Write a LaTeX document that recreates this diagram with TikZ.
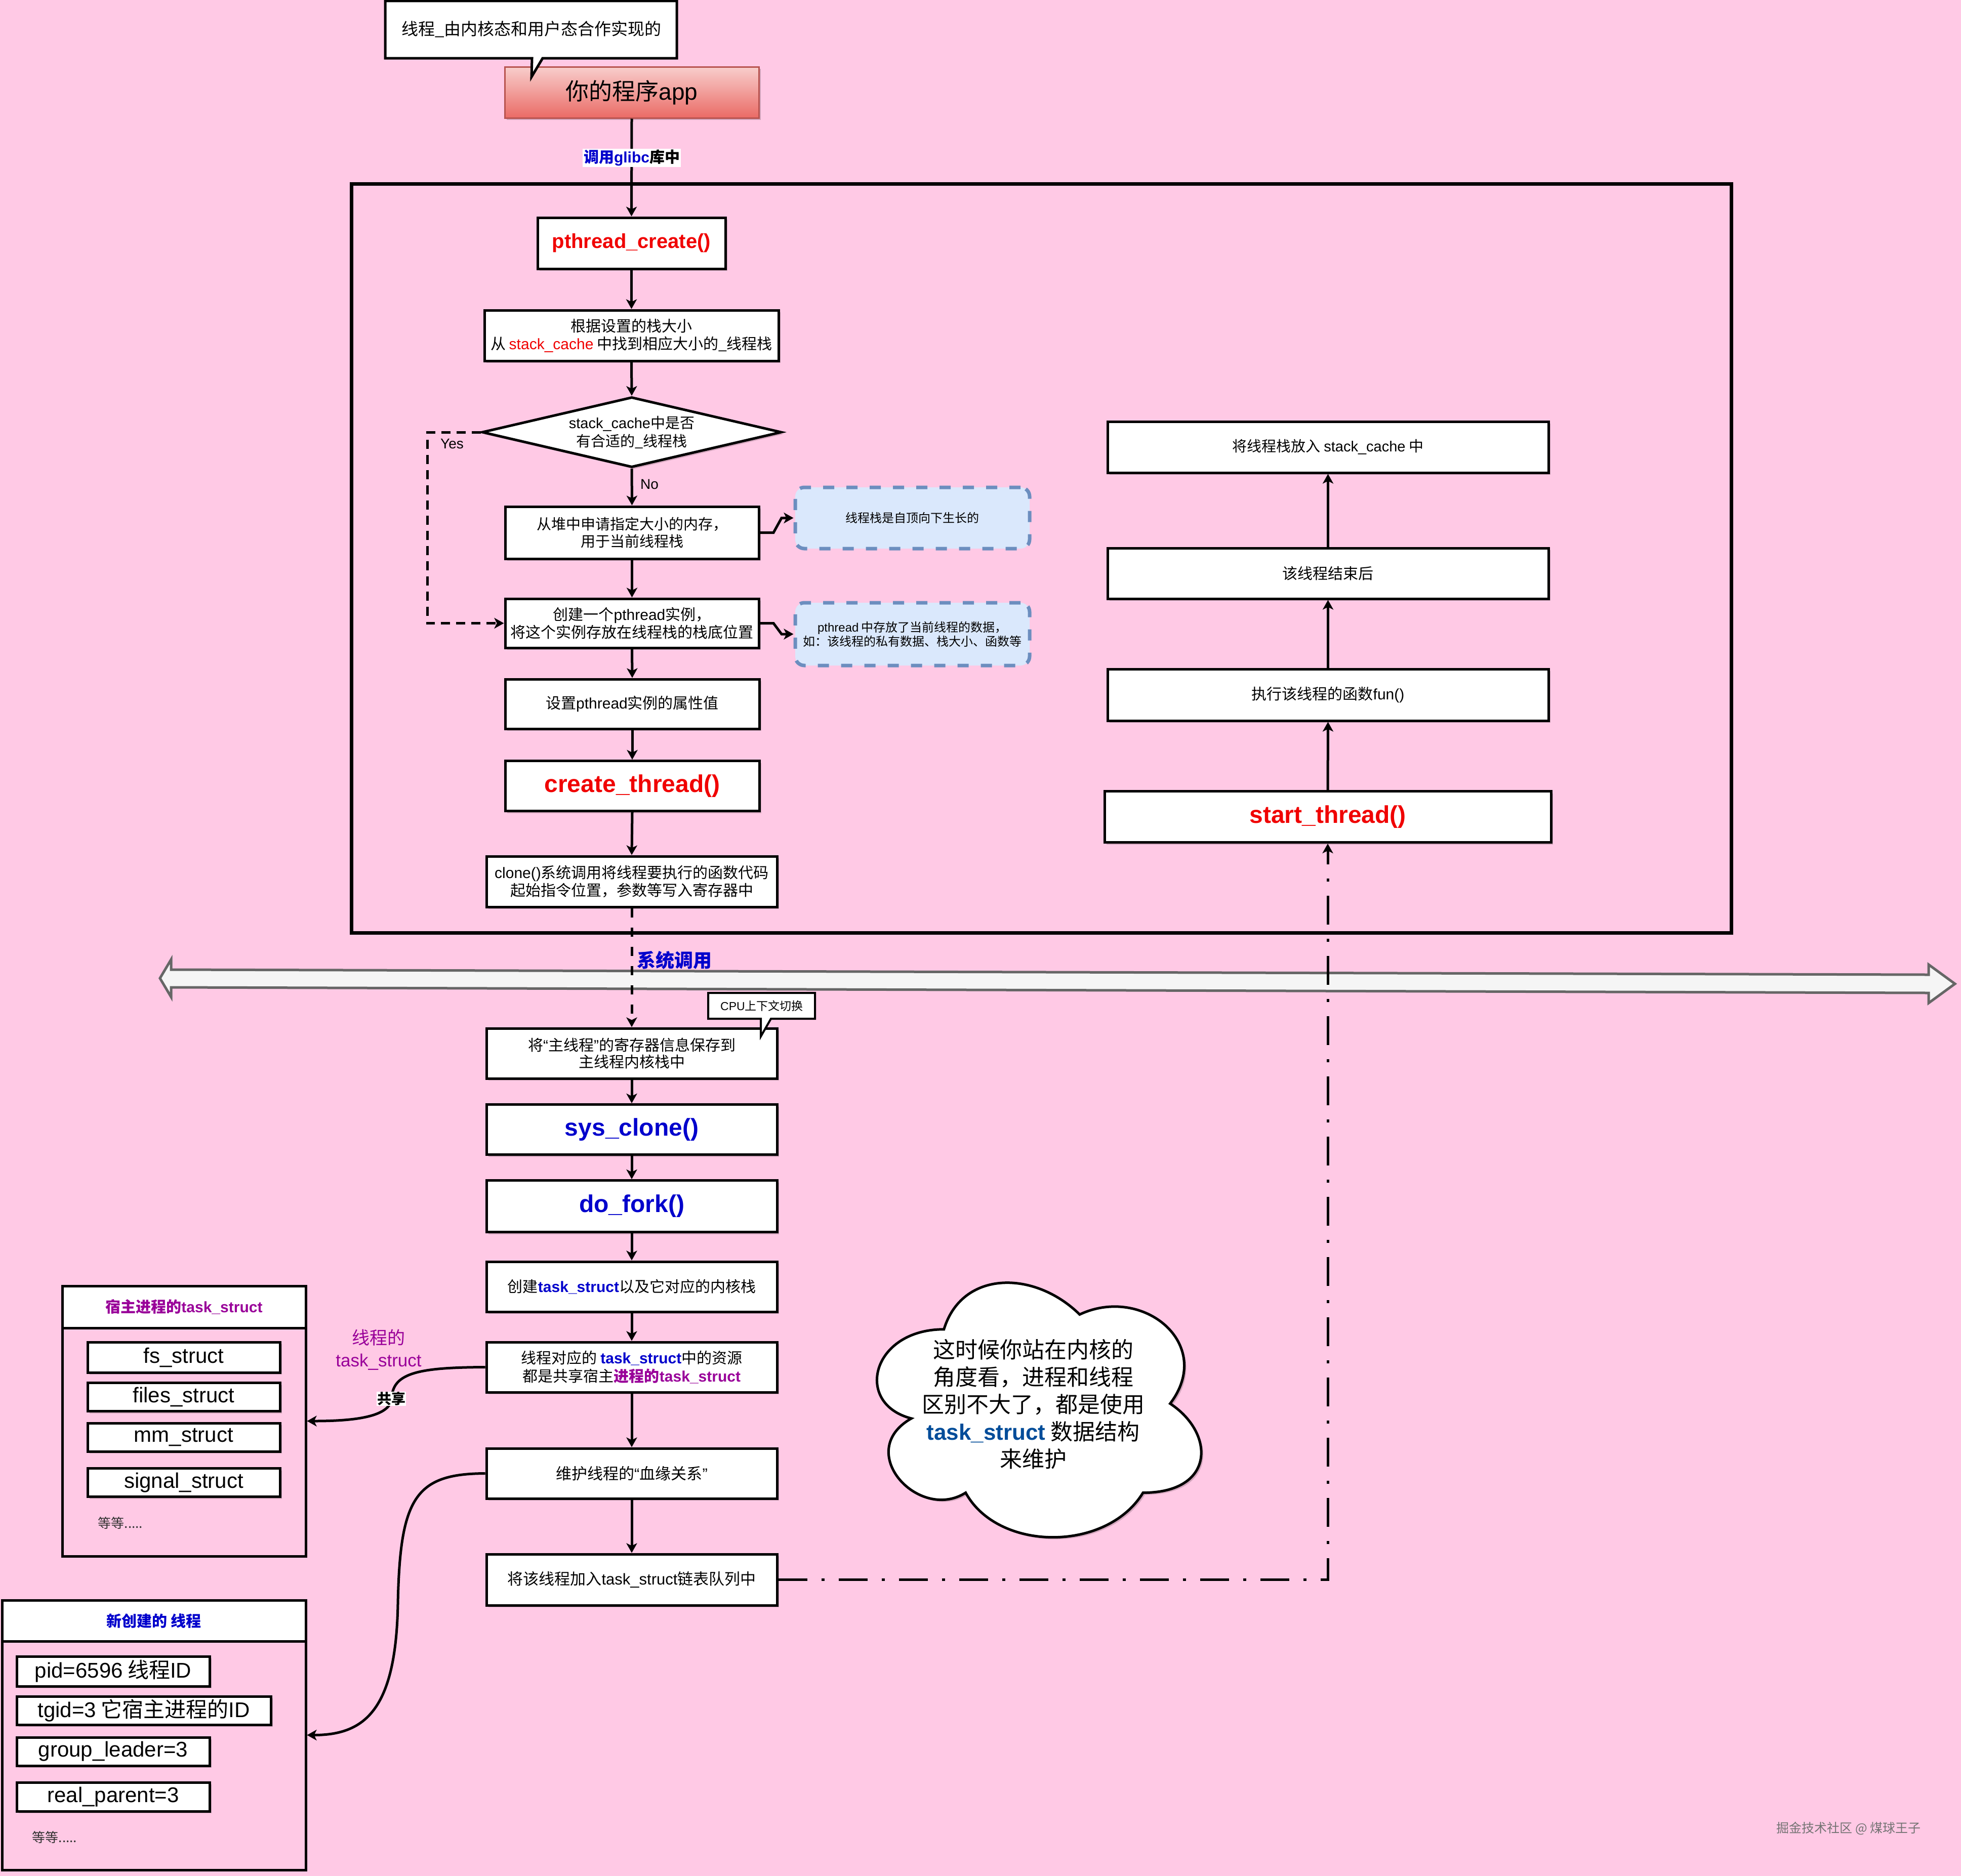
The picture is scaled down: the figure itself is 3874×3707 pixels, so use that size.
\documentclass[tikz,border=0pt]{standalone}
\usepackage{fontspec}
\setmainfont{Noto Sans CJK SC}
\newfontfamily\lat{Liberation Sans}
\usetikzlibrary{arrows.meta,shapes.geometric,shadows}
\definecolor{bgpink}{RGB}{255,201,229}
\definecolor{tred}{RGB}{240,0,0}
\definecolor{tblue}{RGB}{0,0,204}
\definecolor{tpurple}{RGB}{153,0,153}
\definecolor{cblue}{RGB}{0,76,153}
\definecolor{dfill}{RGB}{218,232,252}
\definecolor{dline}{RGB}{108,142,191}
\definecolor{bandfill}{RGB}{245,245,245}
\definecolor{bandline}{RGB}{102,102,102}
\definecolor{appborder}{RGB}{184,84,80}
\definecolor{apptop}{RGB}{248,206,204}
\definecolor{appbot}{RGB}{234,107,102}
\definecolor{wmgray}{RGB}{115,115,115}
\newcommand\fsz[2]{\fontsize{#1pt}{#2pt}\selectfont}
\begin{document}
\begin{tikzpicture}[x=1pt,y=-1pt,
  shd/.style={drop shadow={shadow xshift=4pt,shadow yshift=-4pt,opacity=0.18,fill=black}},
  nbox/.style={draw=black,line width=5pt,fill=white,inner sep=0pt,align=center,shd},
  wh/.style 2 args={minimum width=#1pt,minimum height=#2pt},
  dbox/.style={draw=dline,fill=dfill,line width=7pt,dash pattern=on 22pt off 24pt,rounded corners=18pt,inner sep=0pt,align=center},
  arr/.style={line width=5pt,-{Stealth[length=19pt,width=21pt,inset=5pt]}},
  frame/.style={draw=black,line width=5pt,inner sep=0pt},
  item/.style={nbox,font=\fsz{42}{46}\lat}
]
\useasboundingbox (0,0) rectangle (3874,3707);
\fill[bgpink] (0,0) rectangle (3874,3707);

% kernel / user boundary frame
\node[draw=black,line width=7pt,inner sep=0pt,minimum width=2726pt,minimum height=1480pt] (kern) at (2057,1103) {};

% system call band
\draw[draw=bandline,fill=bandfill,line width=5pt,line join=miter]
  (316,1933) -- (338,1896) -- (338,1916) -- (3810,1926) -- (3810,1906) -- (3862,1944)
  -- (3810,1982) -- (3810,1962) -- (338,1951) -- (338,1970) -- cycle;

% top app
\node[draw=appborder,line width=3pt,top color=apptop,bottom color=appbot,inner sep=0pt,
      minimum width=502pt,minimum height=101pt,font=\fsz{46}{50},shd] (app) at (1248,182.5) {你的程序{\lat app}};
\draw[line width=5pt,fill=white,line join=miter] (761,2) -- (1337,2) -- (1337,115) -- (1072,115) -- (1050,152) -- (1051,115) -- (761,115) -- cycle;
\node[font=\fsz{33}{36}] (note) at (1050,58) {线程\_由内核态和用户态合作实现的};

% user-space flow
\node[nbox,wh={371}{101},font=\fsz{40}{44}\lat\bfseries,text=tred] (pc) at (1247.5,480.5) {pthread\_create()};
\node[nbox,wh={581}{100},font=\fsz{30}{35}] (stk) at (1247.5,663) {根据设置的栈大小\\从 {\lat\color{tred}stack\_cache} 中找到相应大小的\_线程栈};
\node[nbox,diamond,shape aspect=4.26,minimum width=592pt,minimum height=139pt,font=\fsz{29}{36}] (dia) at (1248,854) {{\lat stack\_cache}中是否\\有合适的\_线程栈};
\node[nbox,wh={501}{103},font=\fsz{29}{34}] (heap) at (1248.5,1052.5) {从堆中申请指定大小的内存，\\用于当前线程栈};
\node[dbox,wh={463}{121},font=\fsz{24}{28}] (db1) at (1802.5,1023.5) {线程栈是自顶向下生长的};
\node[nbox,wh={501}{97},font=\fsz{30}{35}] (pins) at (1248.5,1231.5) {创建一个{\lat pthread}实例，\\将这个实例存放在线程栈的栈底位置};
\node[dbox,wh={463}{124},font=\fsz{24}{28}] (db2) at (1802.5,1253) {{\lat pthread} 中存放了当前线程的数据，\\如：该线程的私有数据、栈大小、函数等};
\node[nbox,wh={502}{98},font=\fsz{30}{34}] (attr) at (1249,1391) {设置{\lat pthread}实例的属性值};
\node[nbox,wh={502}{99},font=\fsz{48}{52}\lat\bfseries,text=tred] (ct) at (1249,1553) {create\_thread()};
\node[nbox,wh={574}{100},font=\fsz{30}{35}] (clone) at (1248,1742) {{\lat clone()}系统调用将线程要执行的函数代码\\起始指令位置，参数等写入寄存器中};

% right column
\node[nbox,wh={871}{101},font=\fsz{29}{33}] (rc1) at (2623.5,883.5) {将线程栈放入 {\lat stack\_cache} 中};
\node[nbox,wh={871}{100},font=\fsz{30}{34}] (rc2) at (2623.5,1133) {该线程结束后};
\node[nbox,wh={871}{102},font=\fsz{30}{34}] (rc3) at (2623.5,1373) {执行该线程的函数{\lat fun()}};
\node[nbox,wh={882}{101},font=\fsz{48}{52}\lat\bfseries,text=tred] (st) at (2623,1614) {start\_thread()};

% kernel flow
\node[nbox,wh={574}{99},font=\fsz{30}{33}] (save) at (1248,2081.5) {将{\lat “}主线程{\lat ”}的寄存器信息保存到\\主线程内核栈中};
\node[nbox,wh={574}{99},font=\fsz{48}{52}\lat\bfseries,text=tblue] (sysc) at (1248,2232) {sys\_clone()};
\node[nbox,wh={574}{102},font=\fsz{48}{52}\lat\bfseries,text=tblue] (dofork) at (1248,2383.5) {do\_fork()};
\node[nbox,wh={574}{99},font=\fsz{30}{34}] (cts) at (1248,2542.5) {创建{\lat\bfseries\color{tblue}task\_struct}以及它对应的内核栈};
\node[nbox,wh={574}{99},font=\fsz{30}{36}] (share) at (1248,2701.5) {线程对应的 {\lat\bfseries\color{tblue}task\_struct}中的资源\\都是共享宿主{\bfseries\color{tpurple}进程的{\lat task\_struct}}};
\node[nbox,wh={574}{99},font=\fsz{31}{34}] (blood) at (1248,2911.5) {维护线程的{\lat “}血缘关系{\lat ”}};
\node[nbox,wh={574}{101},font=\fsz{31}{34}] (join) at (1248,3121.5) {将该线程加入{\lat task\_struct}链表队列中};

% CPU callout
\draw[line width=4pt,fill=white,line join=miter] (1399,1962) -- (1610,1962) -- (1610,2013) -- (1523,2013) -- (1503,2048) -- (1503,2013) -- (1399,2013) -- cycle;
\node[font=\fsz{23}{26}] (cpu) at (1505,1988) {{\lat CPU}上下文切换};

% host process task_struct
\node[frame,fill=white,minimum width=481pt,minimum height=83pt,font=\fsz{30}{34}\bfseries,text=tpurple] (hosthd) at (363.5,2582.5) {宿主进程的{\lat task\_struct}};
\node[frame,minimum width=481pt,minimum height=534pt] (host) at (363.5,2808) {};
\node[item,wh={380}{60}] (fs) at (363,2682) {fs\_struct};
\node[item,wh={380}{56}] (files) at (363,2760.5) {files\_struct};
\node[item,wh={380}{56}] (mm) at (363,2840) {mm\_struct};
\node[item,wh={380}{56}] (sig) at (363,2929.5) {signal\_struct};
\node[font=\fsz{26}{30},text=black!80] (etc1) at (238,3010) {等等.....};

% new thread
\node[frame,fill=white,minimum width=600pt,minimum height=81pt,font=\fsz{30}{34}\bfseries,text=tblue] (nthd) at (304,3202.5) {新创建的 线程};
\node[frame,minimum width=600pt,minimum height=533pt] (nt) at (304,3428.5) {};
\node[nbox,wh={381}{59},font=\fsz{42}{46}] (pid) at (223.5,3302.5) {{\lat pid=6596} 线程{\lat ID}};
\node[nbox,wh={502}{56},font=\fsz{42}{46}] (tgid) at (284,3380) {{\lat tgid=3} 它宿主进程的{\lat ID}};
\node[item,wh={381}{56}] (grp) at (223.5,3461) {group\_leader=3};
\node[item,wh={381}{57}] (rp) at (223.5,3550.5) {real\_parent=3};
\node[font=\fsz{26}{30},text=black!80] (etc2) at (108,3630) {等等.....};

% cloud
\draw[line width=5pt,fill=white,shd] (1864.75,2626.75) .. controls (1721.75,2626.75) and (1686,2773.5) .. (1800.4,2802.85)
  .. controls (1686,2867.42) and (1814.7,3008.3) .. (1907.65,2949.6)
  .. controls (1972,3067) and (2186.5,3067) .. (2258,2949.6)
  .. controls (2401,2949.6) and (2401,2832.2) .. (2311.6,2773.5)
  .. controls (2401,2656.1) and (2258,2538.7) .. (2132.9,2597.4)
  .. controls (2043.5,2509.35) and (1900.5,2509.35) .. (1864.75,2626.75) -- cycle;
\node[font=\fsz{44}{54},align=center] (cloudtxt) at (2041,2775) {这时候你站在内核的\\角度看，进程和线程\\区别不大了，都是使用\\{\lat\bfseries\color{cblue}task\_struct} 数据结构\\来维护};

% connectors
\draw[arr] (app.south) -- (pc.north);
\draw[arr] (pc.south) -- (stk.north);
\draw[arr] (stk.south) -- (dia.north);
\draw[arr] (dia.south) -- (heap.north);
\draw[arr] (heap.south) -- (pins.north);
\draw[arr] (pins.south) -- (attr.north);
\draw[arr] (attr.south) -- (ct.north);
\draw[arr] (ct.south) -- (clone.north);
\draw[arr] (heap.east) -- (1528,1052.5) -- (1544,1023.5) -- (db1.west);
\draw[arr] (pins.east) -- (1528,1231.5) -- (1544,1253) -- (db2.west);
\draw[arr,dash pattern=on 18pt off 12pt] (dia.west) -- (844,854) |- (pins.west);
\draw[arr,dash pattern=on 18pt off 20pt] (clone.south) -- (save.north);
\draw[arr] (save.south) -- (sysc.north);
\draw[arr] (sysc.south) -- (dofork.north);
\draw[arr] (dofork.south) -- (cts.north);
\draw[arr] (cts.south) -- (share.north);
\draw[arr] (share.south) -- (blood.north);
\draw[arr] (blood.south) -- (join.north);
\draw[arr] (st.north) -- (rc3.south);
\draw[arr] (rc3.north) -- (rc2.south);
\draw[arr] (rc2.north) -- (rc1.south);
\draw[arr,dash pattern=on 57pt off 28pt on 6pt off 28pt] (join.east) -| (st.south);
\draw[arr] (share.west) .. controls (830,2702) and (776,2712) .. (774,2762) .. controls (772,2800) and (700,2808) .. (host.east);
\draw[arr] (blood.west) .. controls (820,2912) and (790,2960) .. (786,3170) .. controls (782,3380) and (720,3428.5) .. (nt.east);

% labels
\node[fill=white,inner sep=2pt,font=\fsz{30}{34}\bfseries] (glibc) at (1248,312) {{\color{tblue}调用{\lat glibc}}库中};
\node[font=\fsz{28}{32}\lat] (yes) at (893,877) {Yes};
\node[font=\fsz{28}{32}\lat] (no) at (1283,957) {No};
\node[anchor=west,inner sep=0pt,font=\fsz{37}{40}\bfseries,text=tblue] (syscall) at (1258,1897) {系统调用};
\node[font=\fsz{35}{44},text=tpurple,align=center] (tlabel) at (748,2667) {线程的\\{\lat task\_struct}};
\node[fill=white,inner sep=1pt,font=\fsz{28}{32}\bfseries] (gx) at (773,2764) {共享};
\node[font=\fsz{25}{28},text=wmgray] (wm) at (3652,3613) {掘金技术社区 @ 煤球王子};
\end{tikzpicture}
\end{document}
